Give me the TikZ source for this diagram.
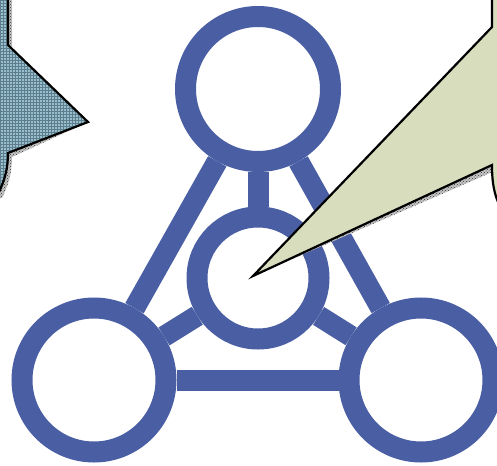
\documentclass[tikz,border=0pt]{standalone}
\usetikzlibrary{patterns}
\definecolor{netblue}{RGB}{74,94,163}
\definecolor{calloutblue}{RGB}{150,192,206}
\definecolor{gridblue}{RGB}{95,125,140}
\definecolor{calloutolive}{RGB}{215,221,189}
\begin{document}
\begin{tikzpicture}[x=1pt,y=-1pt,
  ring/.style={circle,draw=netblue,line width=21pt,fill=white,inner sep=0pt},
  link/.style={draw=netblue,line width=21pt},
  shadowfill/.style={preaction={fill=gray!45},pattern=crosshatch dots,pattern color=black!80},
  callout/.style={draw=black,line width=2.2pt,line join=miter}]
\useasboundingbox (0,0) rectangle (497,465);
% network
\node[ring,minimum size=145pt] (top) at (258,89) {};
\node[ring,minimum size=122pt] (mid) at (258,278) {};
\node[ring,minimum size=144pt] (bl) at (94,380) {};
\node[ring,minimum size=144pt] (br) at (421,380) {};
\draw[link] (top) -- (mid);
\draw[link] (top) -- (bl);
\draw[link] (top) -- (br);
\draw[link] (mid) -- (bl);
\draw[link] (mid) -- (br);
\draw[link] (bl) -- (br);
% left callout
\coordinate (ltip) at (88,122);
\fill[shadowfill,shift={(4,4)}] (-20,-10) -- (8,-10) -- (8,45) -- (ltip) -- (8,153)
  .. controls (8,168) and (5,180) .. (-2,194) -- (-20,194) -- cycle;
\path[callout,preaction={fill=calloutblue},pattern=grid,pattern color=gridblue]
  (-20,-10) -- (8,-10) -- (8,45) -- (ltip) -- (8,153)
  .. controls (8,168) and (5,180) .. (-2,194) -- (-20,194) -- cycle;
% right callout
\coordinate (rtip) at (253,276);
\fill[shadowfill,shift={(5,5)}] (515,-10) -- (492,-10) -- (492,27) -- (rtip) -- (492,165)
  .. controls (492,178) and (493,190) .. (498,202) -- (515,202) -- cycle;
\path[callout,fill=calloutolive]
  (515,-10) -- (492,-10) -- (492,27) -- (rtip) -- (492,165)
  .. controls (492,178) and (493,190) .. (498,202) -- (515,202) -- cycle;
\end{tikzpicture}
\end{document}
